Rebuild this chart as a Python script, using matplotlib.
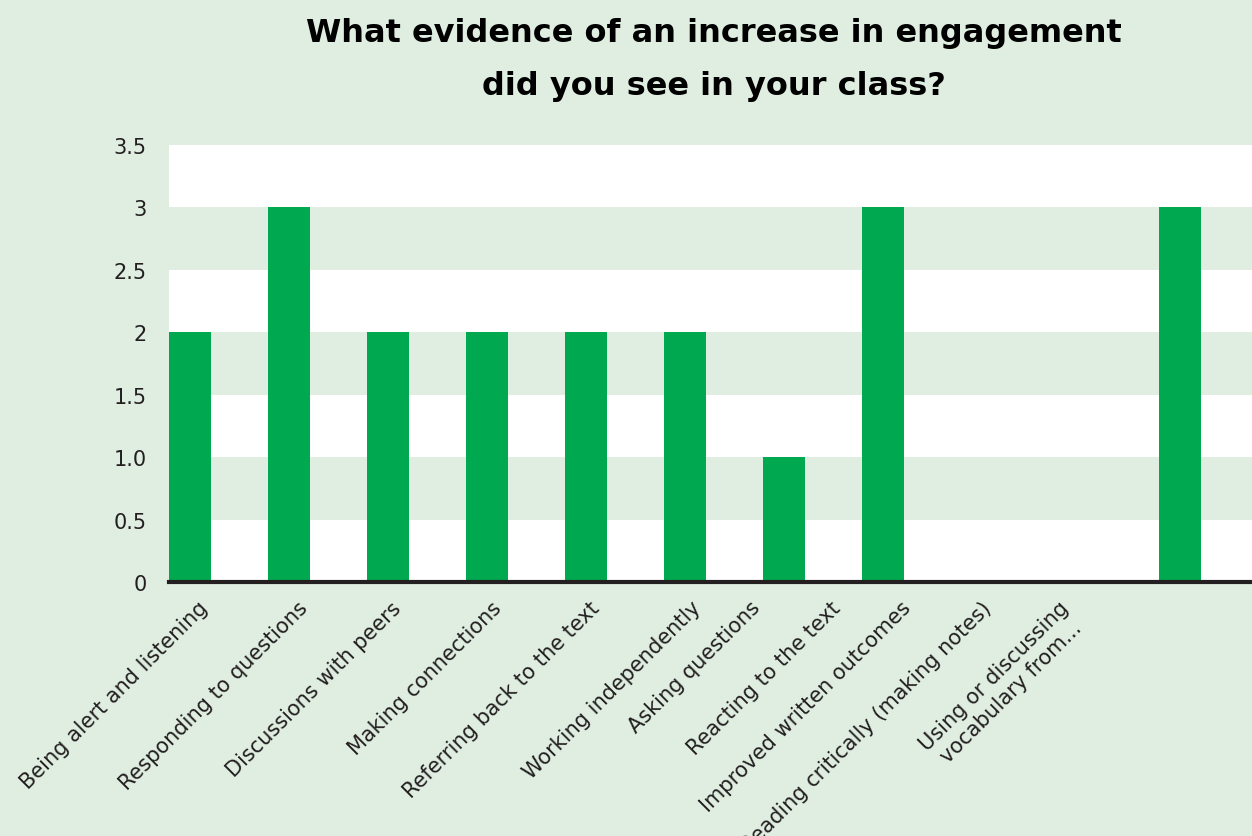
import matplotlib
matplotlib.use('Agg')
import matplotlib.pyplot as plt
import numpy as np

# survey answers
categories = ['Being alert and listening', 'Responding to questions',
              'Discussions with peers', 'Making connections',
              'Referring back to the text', 'Working independently',
              'Asking questions', 'Reacting to the text',
              'Improved written outcomes', 'Reading critically (making notes)',
              'Using or discussing\nvocabulary from...']
counts = [2, 3, 2, 2, 2, 2, 1, 3, 0, 0, 3]
yticks = [0, 0.5, 1.0, 1.5, 2, 2.5, 3, 3.5]
ytick_labels = ['0', '0.5', '1.0', '1.5', '2', '2.5', '3', '3.5']

bg = '#dfeee1'
bar_green = '#00a84f'
dark = '#231f20'

# where each rotated label ends, relative to its bar (bar spacing units)
label_shift = (np.array([15, 16, 10, 11, 10, 13, -27, -46, -74, -93, -114]) - 7) / 99.0

fig = plt.figure(figsize=(12.52, 8.37), dpi=100, facecolor=bg)
ax = fig.add_axes([0.135, 0.3035, 0.865, 0.522])
ax.set_facecolor('white')

# alternating bands
for lo in [0.5, 1.5, 2.5]:
    ax.axhspan(lo, lo + 0.5, color=bg, lw=0, zorder=0)

x = np.arange(len(categories))
ax.bar(x, counts, width=0.424, color=bar_green, zorder=2)
ax.axhline(0, color=dark, lw=3, zorder=3, clip_on=False)

ax.set_xlim(-0.212, 10.73)
ax.set_ylim(0, 3.5)
ax.set_yticks(yticks)
ax.set_yticklabels(ytick_labels, fontsize=15, color=dark)
ax.set_xticks(x + label_shift)
ax.set_xticklabels(categories, rotation=45, ha='right', va='top',
                   rotation_mode='anchor', fontsize=15, color=dark,
                   multialignment='center')
ax.tick_params(axis='x', length=0, pad=11)
ax.tick_params(axis='y', length=0, pad=16)
for s in ax.spines.values():
    s.set_visible(False)

fig.suptitle('What evidence of an increase in engagement\ndid you see in your class?',
             x=0.57, y=0.978, va='top', fontsize=23, fontweight='bold',
             color='black', linespacing=1.9)

fig.savefig('out.png', dpi=100, facecolor=bg)
